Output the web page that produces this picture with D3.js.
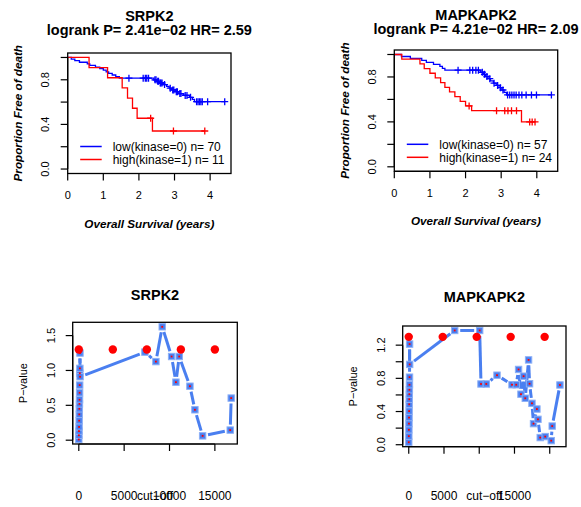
<!DOCTYPE html>
<html>
<head>
<meta charset="utf-8">
<script src="https://cdn.jsdelivr.net/npm/d3@7"></script>
<style>
body { margin: 0; background: #fff; }
svg { display: block; font-family: "Liberation Sans", Arial, sans-serif; }
</style>
</head>
<body>
<svg id="chart" width="581" height="507"></svg>
<script>
// ---------- survival curves: [time, survival after the drop] ----------
const srpkLowSteps = [[0.1,0.986],[0.2,0.971],[0.33,0.957],[0.55,0.943],[0.62,0.929],[0.78,0.914],
  [0.9,0.9],[1.0,0.886],[1.08,0.871],[1.15,0.857],[1.25,0.843],[1.35,0.829],[1.45,0.814],
  [2.42,0.8],[2.5,0.786],[2.58,0.771],[2.68,0.757],[2.78,0.741],[2.85,0.725],[2.92,0.709],
  [3.02,0.693],[3.12,0.676],[3.25,0.66],[3.42,0.643],[3.5,0.624],[3.56,0.604]];
const srpkLowCensor = [1.72,2.12,2.18,2.22,2.27,2.45,2.48,2.53,2.55,2.6,2.62,2.65,2.72,2.88,2.95,
  2.98,3.05,3.08,3.15,3.18,3.3,3.35,3.45,3.62,3.66,3.7,3.74,3.78,3.93,4.41];
const srpkHighSteps = [[0.6,0.909],[1.12,0.818],[1.53,0.727],[1.68,0.636],[1.82,0.545],[1.95,0.455],[2.38,0.341]];
const srpkHighCensor = [2.33,2.97,3.85];

const mapkLowSteps = [[0.2,0.982],[0.45,0.965],[0.77,0.947],[0.9,0.93],[1.1,0.912],[1.28,0.895],
  [1.35,0.877],[1.42,0.86],[2.42,0.842],[2.5,0.823],[2.56,0.804],[2.63,0.785],[2.7,0.765],
  [2.78,0.745],[2.86,0.725],[2.94,0.705],[3.02,0.684],[3.08,0.662],[3.15,0.64]];
const mapkLowCensor = [1.79,2.12,2.2,2.29,2.36,2.47,2.53,2.6,2.68,2.8,2.9,2.98,3.05,3.18,3.24,
  3.3,3.36,3.42,3.5,3.58,3.7,3.85,3.99,4.41];
const mapkHighSteps = [[0.21,0.958],[0.72,0.917],[0.84,0.875],[1.0,0.833],[1.15,0.792],[1.3,0.75],
  [1.42,0.708],[1.55,0.667],[1.7,0.625],[1.85,0.583],[2.0,0.542],[2.17,0.5],[3.57,0.4]];
const mapkHighCensor = [2.1,2.87,3.1,3.19,3.29,3.43,3.8,3.87,3.95];

const kmTimeTicks = [0, 1, 2, 3, 4];
const kmSurvTicks = [0, 0.2, 0.4, 0.6, 0.8, 1.0];

// ---------- p-value by cut-off ----------
const srpkCut = [0,10,20,30,40,50,60,70,80,90,100,110,120,130,140,
  7285,8500,9195,10230,10706,11070,12250,12800,13650,16690,16800];
const srpkP = [0.01,0.07,0.13,0.19,0.28,0.37,0.45,0.52,0.58,0.68,0.79,0.96,1.03,1.25,0.91,
  1.263,1.127,1.626,1.20,0.832,1.20,0.774,0.436,0.062,0.145,0.604];
const srpkSigCut = [0, 3750, 7500, 11250, 15000];
const srpkCutTicks = [0, 5000, 10000, 15000];
const srpkPTicks = [0, 0.5, 1.0, 1.5];

const mapkCut = [0,10,20,30,40,50,60,70,80,90,100,110,120,130,
  6520,10060,10250,11000,12520,14650,15250,15580,15920,16290,16530,17000,17140,17480,
  17700,18180,18330,18650,19360,20210,20350,21450];
const mapkP = [0.03,0.103,0.18,0.254,0.327,0.405,0.487,0.548,0.609,0.662,0.723,0.814,1.213,0.968,
  1.377,1.377,0.732,0.732,0.838,0.723,0.723,0.907,0.609,0.826,0.56,1.022,0.735,0.499,
  0.254,0.43,0.306,0.086,0.098,0.049,0.225,0.72];
const mapkSigCut = [0, 4820, 9640, 14460, 19280];
const mapkCutTicks = [0, 5000, 10000, 15000, 20000];
const mapkPTicks = [0, 0.2, 0.4, 0.6, 0.8, 1.0, 1.2];

const SIG_P = 1.30;   // -log10(0.05)

const svg = d3.select("#chart");
const PT_BLUE = "#4a7ff0";

function survAt(steps, t) {
  let s = 1;
  steps.forEach(d => { if (d[0] <= t) s = d[1]; });
  return s;
}

// R style axis: line from first to last tick, labels dropped when they overlap
function axisBottom(g, scale, ticks, fmt, yPos, labelY, size) {
  g.append("line").attr("x1", scale(ticks[0])).attr("x2", scale(ticks[ticks.length - 1]))
    .attr("y1", yPos).attr("y2", yPos).attr("stroke", "#000").attr("stroke-width", 1.2);
  let lastRight = -Infinity;
  const gap = size * 0.833;
  ticks.forEach(t => {
    g.append("line").attr("x1", scale(t)).attr("x2", scale(t))
      .attr("y1", yPos).attr("y2", yPos + 7).attr("stroke", "#000").attr("stroke-width", 1.2);
    const txt = g.append("text").attr("x", scale(t)).attr("y", labelY)
      .attr("text-anchor", "middle").style("font-size", size + "px").text(fmt(t));
    const w = txt.node().getComputedTextLength();
    if (scale(t) - w / 2 < lastRight + gap) txt.remove();
    else lastRight = scale(t) + w / 2;
  });
}

function axisLeft(g, scale, ticks, fmt, xPos, labelX, size) {
  g.append("line").attr("y1", scale(ticks[0])).attr("y2", scale(ticks[ticks.length - 1]))
    .attr("x1", xPos).attr("x2", xPos).attr("stroke", "#000").attr("stroke-width", 1.2);
  let lastTop = Infinity;
  const gap = size * 0.833;
  ticks.forEach(t => {
    const yy = scale(t);
    g.append("line").attr("y1", yy).attr("y2", yy)
      .attr("x1", xPos).attr("x2", xPos - 7).attr("stroke", "#000").attr("stroke-width", 1.2);
    const txt = g.append("text").attr("transform", `translate(${labelX},${yy}) rotate(-90)`)
      .attr("text-anchor", "middle").style("font-size", size + "px").text(fmt(t));
    const w = txt.node().getComputedTextLength();
    if (yy + w / 2 > lastTop - gap) txt.remove();
    else lastTop = yy - w / 2;
  });
}

function drawBox(g, b) {
  g.append("rect").attr("x", b.x0).attr("y", b.y0)
    .attr("width", b.x1 - b.x0).attr("height", b.y1 - b.y0)
    .attr("fill", "none").attr("stroke", "#000").attr("stroke-width", 1.3);
}

function drawKM(cfg) {
  const b = cfg.box;
  const g = svg.append("g");
  const x = d3.scaleLinear().domain([0, cfg.maxTime * 1.04]).range([b.x0, b.x1]);
  const y = d3.scaleLinear().domain([-0.04, 1.04]).range([b.y1, b.y0]);
  const line = d3.line().x(d => x(d[0])).y(d => y(d[1])).curve(d3.curveStepAfter);

  cfg.groups.forEach(grp => {
    const last = grp.steps[grp.steps.length - 1][1];
    const pts = [[0, 1]].concat(grp.steps, [[grp.end, last]]);
    g.append("path").attr("d", line(pts)).attr("fill", "none")
      .attr("stroke", grp.color).attr("stroke-width", 1.3);
    grp.censor.forEach(t => {
      const cx = x(t), cy = y(survAt(grp.steps, t));
      g.append("path").attr("d", `M${cx - 3.5},${cy}H${cx + 3.5}M${cx},${cy - 3.5}V${cy + 3.5}`)
        .attr("stroke", grp.color).attr("stroke-width", 1.3);
    });
  });

  drawBox(g, b);
  axisBottom(g, x, kmTimeTicks, d => String(d), b.y1, b.y1 + 25.5, 11);
  axisLeft(g, y, kmSurvTicks, d3.format(".1f"), b.x0, b.x0 - 18.5, 11);

  // legend
  cfg.groups.forEach((grp, i) => {
    const ly = b.y1 - 27 + i * 13;
    g.append("line").attr("x1", b.x0 + 12.5).attr("x2", b.x0 + 34).attr("y1", ly).attr("y2", ly)
      .attr("stroke", grp.color).attr("stroke-width", 1.5);
    g.append("text").attr("x", b.x0 + 45).attr("y", ly + 4.2)
      .style("font-size", "12px").text(grp.label);
  });

  const cx = (b.x0 + b.x1) / 2;
  g.append("text").attr("x", cx).attr("y", cfg.titleY).attr("text-anchor", "middle")
    .style("font-size", "14.5px").style("font-weight", "bold").text(cfg.title);
  g.append("text").attr("x", cx).attr("y", cfg.titleY + 14).attr("text-anchor", "middle")
    .style("font-size", "14.5px").style("font-weight", "bold").text(cfg.subtitle);
  g.append("text").attr("x", cx).attr("y", b.y1 + 54).attr("text-anchor", "middle")
    .style("font-size", "11.7px").style("font-weight", "bold").style("font-style", "italic")
    .text("Overall Survival (years)");
  g.append("text").attr("transform", `translate(${b.x0 - 45.5},${(b.y0 + b.y1) / 2}) rotate(-90)`)
    .attr("text-anchor", "middle")
    .style("font-size", "11.7px").style("font-weight", "bold").style("font-style", "italic")
    .text("Proportion Free of death");
}

function drawCut(cfg) {
  const b = cfg.box;
  const g = svg.append("g");
  const ext = (lo, hi) => { const d = (hi - lo) * 0.04; return [lo - d, hi + d]; };
  const allX = cfg.cut.concat(cfg.sigCut), allY = cfg.p.concat([SIG_P]);
  const x = d3.scaleLinear().domain(ext(d3.min(allX), d3.max(allX))).range([b.x0, b.x1]);
  const y = d3.scaleLinear().domain(ext(d3.min(allY), d3.max(allY))).range([b.y1, b.y0]);
  const pts = cfg.cut.map((c, i) => [x(c), y(cfg.p[i])]);

  // type = "b": segments with a gap around every point
  const gapR = 5.5;
  for (let i = 1; i < pts.length; i++) {
    const [x0, y0] = pts[i - 1], [x1, y1] = pts[i];
    const len = Math.hypot(x1 - x0, y1 - y0);
    if (len <= 2 * gapR) continue;
    const ux = (x1 - x0) / len, uy = (y1 - y0) / len;
    g.append("line")
      .attr("x1", x0 + ux * gapR).attr("y1", y0 + uy * gapR)
      .attr("x2", x1 - ux * gapR).attr("y2", y1 - uy * gapR)
      .attr("stroke", PT_BLUE).attr("stroke-width", 3);
  }
  g.selectAll("rect.sq").data(pts).enter().append("rect").attr("class", "sq")
    .attr("x", d => d[0] - 3.2).attr("y", d => d[1] - 3.2).attr("width", 6.4).attr("height", 6.4)
    .attr("fill", PT_BLUE).attr("stroke", "#8db0f6").attr("stroke-width", 1);
  g.selectAll("rect.dot").data(pts).enter().append("rect").attr("class", "dot")
    .attr("x", d => d[0] - 0.9).attr("y", d => d[1] - 0.9).attr("width", 1.8).attr("height", 1.8)
    .attr("fill", "#ff0000");
  g.selectAll("circle.sig").data(cfg.sigCut).enter().append("circle").attr("class", "sig")
    .attr("cx", d => x(d)).attr("cy", y(SIG_P)).attr("r", 4.2).attr("fill", "#ff0000");

  drawBox(g, b);
  axisBottom(g, x, cfg.cutTicks, d => String(d), b.y1, 500, 12);
  axisLeft(g, y, cfg.pTicks, d3.format(".1f"), b.x0, b.x0 - 18, 11);

  const cx = (b.x0 + b.x1) / 2;
  g.append("text").attr("x", cx).attr("y", cfg.titleY).attr("text-anchor", "middle")
    .style("font-size", "14.5px").style("font-weight", "bold").text(cfg.title);
  g.append("text").attr("x", cx).attr("y", 500).attr("text-anchor", "middle")
    .style("font-size", "12px").text("cut\u2212off");
  g.append("text").attr("transform", `translate(${b.x0 - 45.5},${(b.y0 + b.y1) / 2}) rotate(-90)`)
    .attr("text-anchor", "middle").style("font-size", "11px").text("P\u2212value");
}

drawKM({
  box: { x0: 67.7, x1: 231, y0: 53, y1: 173.5 },
  maxTime: 4.41, title: "SRPK2", subtitle: "logrank P= 2.41e\u221202 HR= 2.59", titleY: 21,
  groups: [
    { steps: srpkLowSteps, censor: srpkLowCensor, end: 4.41, color: "#0000ff", label: "low(kinase=0) n= 70" },
    { steps: srpkHighSteps, censor: srpkHighCensor, end: 3.85, color: "#ff0000", label: "high(kinase=1) n= 11" }
  ]
});
drawKM({
  box: { x0: 394.3, x1: 557.7, y0: 50, y1: 171.3 },
  maxTime: 4.41, title: "MAPKAPK2", subtitle: "logrank P= 4.21e\u221202 HR= 2.09", titleY: 20,
  groups: [
    { steps: mapkLowSteps, censor: mapkLowCensor, end: 4.41, color: "#0000ff", label: "low(kinase=0) n= 57" },
    { steps: mapkHighSteps, censor: mapkHighCensor, end: 3.95, color: "#ff0000", label: "high(kinase=1) n= 24" }
  ]
});
drawCut({
  box: { x0: 72.7, x1: 237.3, y0: 322.3, y1: 444 },
  cut: srpkCut, p: srpkP, sigCut: srpkSigCut, cutTicks: srpkCutTicks, pTicks: srpkPTicks,
  title: "SRPK2", titleY: 300
});
drawCut({
  box: { x0: 402.7, x1: 566, y0: 326, y1: 446.7 },
  cut: mapkCut, p: mapkP, sigCut: mapkSigCut, cutTicks: mapkCutTicks, pTicks: mapkPTicks,
  title: "MAPKAPK2", titleY: 302
});
</script>
</body>
</html>
